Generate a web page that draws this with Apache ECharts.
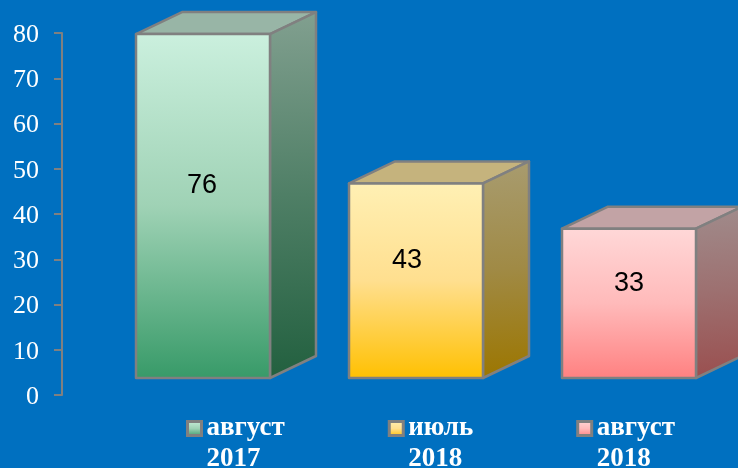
<!DOCTYPE html>
<html><head><meta charset="utf-8">
<style>html,body{margin:0;padding:0;background:#0070C0}#c{width:738px;height:468px}</style>
<script src="https://cdn.jsdelivr.net/npm/echarts@6/dist/echarts.min.js"></script>
</head><body><div id="c"></div>
<script>
const categories = ['август\n2017', 'июль\n2018', 'август\n2018'];
const values = [76, 43, 33];
const yTicks = {min: 0, max: 80, interval: 10};

const palettes = [
  {front: ['#CBF0DE', '#9FD2B5', '#379A68'], top: '#98B5A6', side: ['#82A090', '#4F7F66', '#22603F']},
  {front: ['#FFF0B4', '#FFDF8F', '#FFC000'], top: '#C5B37D', side: ['#A89C70', '#A08A45', '#9C7600']},
  {front: ['#FFD8D8', '#FFBABA', '#FF8080'], top: '#C2A3A5', side: ['#A08C8C', '#9D7070', '#9A4F4F']}
];
const labelNudgeX = [-1, -9, 0];
const labelNudgeY = [-21, -20, -20];
const EDGE = '#808080', DX = 46, DY = 22, BASE = 17;
const grad = (c, x2, y2) => ({type: 'linear', x: 0, y: 0, x2: x2, y2: y2,
  colorStops: [{offset: 0, color: c[0]}, {offset: 0.5, color: c[1]}, {offset: 1, color: c[2]}]});

function renderBox(params, api) {
  const i = api.value(0), v = api.value(1), p = palettes[i];
  const hw = api.size([1, 0])[0] * 0.3145;
  const cx = api.coord([i, 0])[0];
  const yb = api.coord([i, 0])[1] - BASE;
  const yt = api.coord([i, v])[1] - BASE;
  const l = cx - hw, r = cx + hw;
  const st = {stroke: EDGE, lineWidth: 2.5, lineJoin: 'round'};
  return {type: 'group', children: [
    {type: 'polygon', shape: {points: [[l, yt], [l + DX, yt - DY], [r + DX, yt - DY], [r, yt]]},
      style: Object.assign({fill: p.top}, st)},
    {type: 'polygon', shape: {points: [[r, yt], [r + DX, yt - DY], [r + DX, yb - DY], [r, yb]]},
      style: Object.assign({fill: grad(p.side, 0.25, 1)}, st)},
    {type: 'rect', shape: {x: l, y: yt, width: r - l, height: yb - yt},
      style: Object.assign({fill: grad(p.front, 0, 1)}, st)},
    {type: 'text', style: {text: String(v), x: cx + labelNudgeX[i], y: (yt + yb) / 2 + labelNudgeY[i],
      align: 'center', verticalAlign: 'middle', fill: '#000',
      font: '27px "Liberation Sans", Arial, sans-serif'}}
  ]};
}

const chart = echarts.init(document.getElementById('c'), null, {renderer: 'canvas'});
chart.setOption({
  backgroundColor: '#0070C0',
  animation: false,
  grid: {left: 96.5, width: 639, top: 33, bottom: 73},
  xAxis: {type: 'category', data: categories, show: false},
  yAxis: {type: 'value', min: yTicks.min, max: yTicks.max, interval: yTicks.interval, offset: 34.5,
    splitLine: {show: false},
    axisLine: {show: true, lineStyle: {color: EDGE, width: 2}},
    axisTick: {show: true, length: 8, lineStyle: {color: EDGE, width: 2}},
    axisLabel: {margin: 23, formatter: v => '{n|' + v + '}',
      rich: {n: {color: '#fff', fontFamily: '"Liberation Serif", serif', fontSize: 26, padding: [4, 0, 0, 0]}}}},
  legend: {
    left: 186, top: 380, padding: 0, itemGap: 103, itemWidth: 14, itemHeight: 14,
    selectedMode: false, icon: 'rect',
    data: categories.map((n, i) => ({name: n,
      itemStyle: {color: grad(palettes[i].front, 0, 1), borderColor: EDGE, borderWidth: 3}})),
    formatter: n => '\n' + n,
    textStyle: {color: '#fff', fontFamily: '"Liberation Serif", serif', fontWeight: 'bold',
      fontSize: 27, lineHeight: 31, padding: [4, 0, 0, 0]}
  },
  series: categories.map((n, i) => ({
    type: 'custom', name: n, renderItem: renderBox, clip: false,
    encode: {x: 0, y: 1}, data: [[i, values[i]]],
    itemStyle: {color: palettes[i].front[2]}
  }))
});
</script></body></html>
